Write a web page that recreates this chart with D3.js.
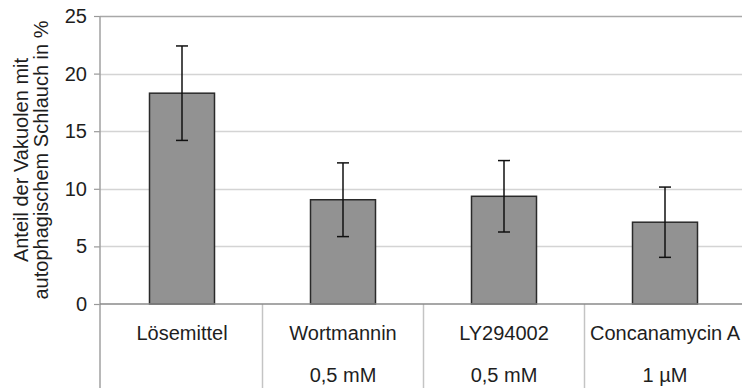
<!DOCTYPE html>
<html><head><meta charset="utf-8">
<script src="https://cdn.jsdelivr.net/npm/d3@7"></script>
<style>
html,body{margin:0;padding:0;background:#fff;}
svg{display:block;font-family:"Liberation Sans",Arial,sans-serif;}
</style></head>
<body>
<svg id="chart" width="742" height="390"></svg>
<script>
const categories = ["Lösemittel", "Wortmannin", "LY294002", "Concanamycin A"];
const subLabels = ["", "0,5 mM", "0,5 mM", "1 µM"];
const values = [18.3, 9.05, 9.35, 7.1];
const errors = [4.1, 3.2, 3.1, 3.05];
const yTicks = [0, 5, 10, 15, 20, 25];
const yLabelLines = ["Anteil der Vakuolen mit", "autophagischem Schlauch in %"];

const svg = d3.select("#chart");
const x = d3.scaleBand().domain(categories).range([101.5, 745.5]).padding(0);
const y = d3.scaleLinear().domain([0, 25]).range([304, 16]);
const barW = 65;
const textColor = "#1e1e1e";

// gridlines
svg.append("g").selectAll("line").data(yTicks.filter(d => d > 0)).join("line")
  .attr("x1", 100).attr("x2", 742)
  .attr("y1", d => Math.round(y(d)) + 0.5).attr("y2", d => Math.round(y(d)) + 0.5)
  .attr("stroke", d => d === 25 ? "#a8a8a8" : "#d4d4d4").attr("stroke-width", 1.5);

// y axis
const yAxis = d3.axisLeft(y).tickValues(yTicks).tickSize(6).tickPadding(7).tickFormat(d3.format("d"));
const gy = svg.append("g").attr("transform", "translate(100,0)").call(yAxis);
gy.select(".domain").remove();
gy.selectAll(".tick line").attr("stroke", "#999").attr("stroke-width", 1.2);
gy.selectAll(".tick text").attr("font-size", 20).attr("fill", textColor)
  .attr("font-family", "'Liberation Sans', Arial, sans-serif");
svg.append("line").attr("x1", 100).attr("x2", 100).attr("y1", 16).attr("y2", 388)
  .attr("stroke", "#a0a0a0").attr("stroke-width", 1.5);

// category separators
svg.append("g").selectAll("line").data(categories.slice(1)).join("line")
  .attr("x1", d => x(d)).attr("x2", d => x(d))
  .attr("y1", 304).attr("y2", 388)
  .attr("stroke", "#c4c4c4").attr("stroke-width", 1.5);

// bars
svg.append("g").selectAll("rect").data(categories).join("rect")
  .attr("x", d => x(d) + x.bandwidth() / 2 - barW / 2)
  .attr("width", barW)
  .attr("y", (d, i) => y(values[i]))
  .attr("height", (d, i) => y(0) - y(values[i]))
  .attr("fill", "#929292").attr("stroke", "#2a2a2a").attr("stroke-width", 1.5);

// baseline
svg.append("line").attr("x1", 100).attr("x2", 742).attr("y1", y(0)).attr("y2", y(0))
  .attr("stroke", "#8a8a8a").attr("stroke-width", 1.5);

// error bars
const eg = svg.append("g").attr("stroke", "#111").attr("stroke-width", 1.5);
categories.forEach((c, i) => {
  const cx = x(c) + x.bandwidth() / 2;
  const hi = y(values[i] + errors[i]), lo = y(values[i] - errors[i]);
  eg.append("line").attr("x1", cx).attr("x2", cx).attr("y1", hi).attr("y2", lo);
  eg.append("line").attr("x1", cx - 6).attr("x2", cx + 6).attr("y1", hi).attr("y2", hi);
  eg.append("line").attr("x1", cx - 6).attr("x2", cx + 6).attr("y1", lo).attr("y2", lo);
});

// category labels
svg.append("g").selectAll("text").data(categories).join("text")
  .attr("x", d => x(d) + x.bandwidth() / 2).attr("y", 340)
  .attr("text-anchor", "middle").attr("font-size", 20).attr("fill", textColor)
  .text(d => d);
svg.append("g").selectAll("text").data(categories).join("text")
  .attr("x", d => x(d) + x.bandwidth() / 2).attr("y", 382)
  .attr("text-anchor", "middle").attr("font-size", 20).attr("fill", textColor)
  .text((d, i) => subLabels[i]);

// y label
const lx = [28, 48];
svg.append("g").selectAll("text").data(yLabelLines).join("text")
  .attr("transform", (d, i) => `translate(${lx[i]},160) rotate(-90)`)
  .attr("text-anchor", "middle").attr("font-size", 20).attr("fill", textColor)
  .text(d => d);
</script>
</body></html>
